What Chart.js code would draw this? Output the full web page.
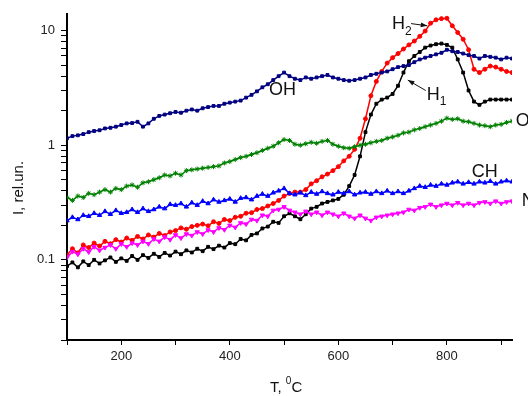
<!DOCTYPE html>
<html>
<head>
<meta charset="utf-8">
<script src="https://cdn.jsdelivr.net/npm/chart.js@4.4.1/dist/chart.umd.min.js"></script>
<style>
  html, body { margin: 0; padding: 0; background: #fff; }
  canvas { display: block; }
</style>
</head>
<body>
<canvas id="chart" width="528" height="396"></canvas>
<script>
// Temperaturas (°C)
const temps = [
  100, 110, 120, 130, 140, 150, 160, 170, 180, 190,
  200, 210, 220, 230, 240, 250, 260, 270, 280, 290,
  300, 310, 320, 330, 340, 350, 360, 370, 380, 390,
  400, 410, 420, 430, 440, 450, 460, 470, 480, 490,
  500, 510, 520, 530, 540, 550, 560, 570, 580, 590,
  600, 610, 620, 630, 640, 650, 660, 670, 680, 690,
  700, 710, 720, 730, 740, 750, 760, 770, 780, 790,
  800, 810, 820, 830, 840, 850, 860, 870, 880, 890,
  900, 910, 920
];

// Intensidades (rel. un.)
const ohValues = [
  1.15, 1.2, 1.22, 1.25, 1.3, 1.33, 1.35, 1.4, 1.42, 1.45,
  1.5, 1.55, 1.56, 1.6, 1.45, 1.55, 1.7, 1.8, 1.85, 1.9,
  1.95, 1.92, 2.0, 2.05, 2.0, 2.1, 2.15, 2.2, 2.2, 2.3,
  2.35, 2.4, 2.45, 2.6, 2.75, 2.95, 3.2, 3.4, 3.7, 4.0,
  4.3, 4.0, 3.8, 3.7, 3.9, 3.8, 3.9, 4.0, 4.1, 3.9,
  3.8, 3.7, 3.65, 3.7, 3.8, 3.9, 4.1, 4.2, 4.3, 4.4,
  4.6, 4.8, 4.9, 5.0, 5.3, 5.6, 5.8, 6.0, 6.2, 6.4,
  6.8, 6.6, 6.5, 6.3, 6.1, 6.0, 5.7, 6.0, 5.9, 5.8,
  5.6, 5.8, 5.7
];
const oValues = [
  0.35, 0.33, 0.36, 0.35, 0.38, 0.37, 0.39, 0.41, 0.39, 0.42,
  0.41, 0.44, 0.45, 0.43, 0.47, 0.48, 0.50, 0.52, 0.55, 0.54,
  0.57, 0.55, 0.60, 0.61, 0.62, 0.63, 0.64, 0.65, 0.66, 0.70,
  0.72, 0.75, 0.78, 0.80, 0.83, 0.86, 0.90, 0.94, 0.98, 1.05,
  1.12, 1.10, 1.02, 1.0, 1.03, 1.06, 1.04, 1.08, 1.10, 1.02,
  0.98, 0.95, 0.94, 0.97, 1.0, 1.02, 1.05, 1.08, 1.1, 1.15,
  1.18, 1.22, 1.28, 1.30, 1.36, 1.40, 1.45, 1.50, 1.55, 1.62,
  1.72, 1.68, 1.70, 1.62, 1.60, 1.55, 1.50, 1.48, 1.45, 1.50,
  1.52, 1.58, 1.62
];
const chValues = [
  0.22, 0.235, 0.225, 0.245, 0.24, 0.255, 0.245, 0.265, 0.25, 0.27,
  0.255, 0.26, 0.275, 0.26, 0.28, 0.265, 0.275, 0.29, 0.28, 0.305,
  0.30, 0.31, 0.29, 0.315, 0.30, 0.325, 0.31, 0.335, 0.32, 0.33,
  0.34, 0.32, 0.345, 0.35, 0.335, 0.36, 0.375, 0.36, 0.385, 0.40,
  0.42, 0.38, 0.37, 0.385, 0.365, 0.39, 0.375, 0.395, 0.38, 0.37,
  0.39, 0.38, 0.395, 0.37, 0.385, 0.39, 0.375, 0.395, 0.38, 0.40,
  0.38, 0.395, 0.38, 0.40, 0.42, 0.44, 0.43, 0.45, 0.44, 0.46,
  0.45, 0.47, 0.48, 0.46, 0.475, 0.46, 0.48, 0.47, 0.485, 0.46,
  0.48, 0.49, 0.48
];
const nValues = [
  0.105, 0.118, 0.112, 0.125, 0.117, 0.13, 0.121, 0.128, 0.135, 0.125,
  0.138, 0.13, 0.14, 0.135, 0.145, 0.138, 0.152, 0.145, 0.158, 0.15,
  0.165, 0.155, 0.168, 0.163, 0.175, 0.168, 0.182, 0.175, 0.19, 0.183,
  0.2, 0.192, 0.21, 0.205, 0.225, 0.22, 0.245, 0.24, 0.27, 0.275,
  0.29, 0.27, 0.26, 0.25, 0.265, 0.25, 0.26, 0.245, 0.26, 0.25,
  0.24, 0.255, 0.24, 0.23, 0.245, 0.23, 0.22, 0.235, 0.24, 0.245,
  0.25, 0.255, 0.26, 0.275, 0.27, 0.285, 0.29, 0.305, 0.29, 0.30,
  0.31, 0.30, 0.315, 0.30, 0.31, 0.30, 0.315, 0.32, 0.31, 0.325,
  0.31, 0.32, 0.325
];
const h2Values = [
  0.11, 0.125, 0.115, 0.135, 0.128, 0.14, 0.132, 0.145, 0.138, 0.15,
  0.143, 0.155, 0.148, 0.16, 0.152, 0.165, 0.158, 0.17, 0.163, 0.175,
  0.18, 0.19, 0.185, 0.195, 0.2, 0.205, 0.198, 0.215, 0.208, 0.225,
  0.22, 0.235, 0.24, 0.255, 0.258, 0.275, 0.28, 0.295, 0.31, 0.33,
  0.36, 0.38, 0.39, 0.39, 0.41, 0.46, 0.49, 0.53, 0.56, 0.6,
  0.65, 0.73, 0.8, 0.92, 1.15, 1.7, 2.7, 3.6, 4.4, 5.2,
  5.8, 6.3, 6.9, 7.5, 8.1, 8.9, 9.9, 11.6, 12.4, 12.7,
  12.8, 11.0, 9.6, 8.4, 6.8, 4.6, 4.3, 4.6, 4.9, 4.8,
  4.6, 4.4, 4.3
];
const h1Values = [
  0.088, 0.095, 0.086, 0.097, 0.09, 0.1, 0.093, 0.099, 0.105, 0.096,
  0.103, 0.098, 0.108, 0.1, 0.11, 0.104, 0.113, 0.106, 0.115, 0.109,
  0.118, 0.112, 0.121, 0.116, 0.125, 0.119, 0.13, 0.124, 0.133, 0.128,
  0.14, 0.137, 0.152, 0.148, 0.165, 0.17, 0.188, 0.195, 0.215, 0.21,
  0.24, 0.255, 0.24, 0.226, 0.25, 0.28, 0.29, 0.31, 0.32, 0.33,
  0.34, 0.37, 0.44, 0.55, 0.8, 1.3, 1.85, 2.3, 2.5, 2.6,
  2.8, 3.3, 4.3, 5.4, 6.0, 6.5, 7.1, 7.4, 7.6, 7.7,
  7.5, 7.1, 5.6, 4.3, 3.0, 2.4, 2.25, 2.4, 2.5, 2.5,
  2.5, 2.5, 2.5
];

// Ticks dos eixos
const xTicks = [100, 200, 300, 400, 500, 600, 700, 800, 900];
const xLabels = [200, 400, 600, 800];
const yTicks = [
  0.02, 0.03, 0.04, 0.05, 0.06, 0.07, 0.08, 0.09,
  0.1, 0.2, 0.3, 0.4, 0.5, 0.6, 0.7, 0.8, 0.9,
  1, 2, 3, 4, 5, 6, 7, 8, 9, 10
];
const yLabels = [0.1, 1, 10];

const font = '"Liberation Sans", Arial, sans-serif';

// Rótulos das curvas (posição em coordenadas de dados)
const curveLabels = [
  { text: 'OH', t: 472, v: 3.04 },
  { text: 'O', t: 927, v: 1.64 },
  { text: 'CH', t: 846, v: 0.585 },
  { text: 'N', t: 938, v: 0.329 },
  { text: 'H', sub: '2', t: 699, v: 11.3, arrow: { from: [734, 11.5], to: [764, 11.0] } },
  { text: 'H', sub: '1', t: 763, v: 2.75, arrow: { from: [761, 3.0], to: [728, 3.7] } }
];

function toPoints(values) {
    return values.map((v, i) => ({ x: temps[i], y: v }));
}

function series(label, values, color, style, radius, rotation) {
    return {
        label: label,
        data: toPoints(values),
        borderColor: color,
        backgroundColor: color,
        borderWidth: 1.5,
        pointStyle: style,
        pointRadius: radius,
        pointRotation: rotation || 0,
        pointBorderWidth: 1,
        tension: 0
    };
}

function drawArrow(ctx, x1, y1, x2, y2) {
    const ang = Math.atan2(y2 - y1, x2 - x1);
    ctx.lineWidth = 1;
    ctx.beginPath();
    ctx.moveTo(x1, y1);
    ctx.lineTo(x2, y2);
    ctx.stroke();
    ctx.beginPath();
    ctx.moveTo(x2, y2);
    ctx.lineTo(x2 - 7 * Math.cos(ang - 0.35), y2 - 7 * Math.sin(ang - 0.35));
    ctx.lineTo(x2 - 7 * Math.cos(ang + 0.35), y2 - 7 * Math.sin(ang + 0.35));
    ctx.closePath();
    ctx.fill();
}

const labelsPlugin = {
    id: 'curveLabels',
    afterDraw(chart) {
        const ctx = chart.ctx;
        const xs = chart.scales.x;
        const ys = chart.scales.y;
        ctx.save();
        ctx.fillStyle = '#111';
        ctx.strokeStyle = '#111';
        ctx.textAlign = 'left';
        ctx.textBaseline = 'middle';

        curveLabels.forEach(l => {
            const px = xs.getPixelForValue(l.t);
            const py = ys.getPixelForValue(l.v);
            ctx.font = '18px ' + font;
            ctx.fillText(l.text, px, py);
            if (l.sub) {
                const w = ctx.measureText(l.text).width;
                ctx.font = '12px ' + font;
                ctx.fillText(l.sub, px + w, py + 7);
            }
            if (l.arrow) {
                drawArrow(ctx,
                    xs.getPixelForValue(l.arrow.from[0]), ys.getPixelForValue(l.arrow.from[1]),
                    xs.getPixelForValue(l.arrow.to[0]), ys.getPixelForValue(l.arrow.to[1]));
            }
        });

        // Título do eixo x: T, °C (com 0 sobrescrito)
        ctx.textBaseline = 'alphabetic';
        let x = 270;
        ctx.font = '15px ' + font;
        ctx.fillText('T, ', x, 392);
        x += ctx.measureText('T, ').width;
        ctx.font = '10px ' + font;
        ctx.fillText('0', x, 384);
        x += ctx.measureText('0').width;
        ctx.font = '15px ' + font;
        ctx.fillText('C', x, 392);

        // Título do eixo y
        ctx.translate(19, 188);
        ctx.rotate(-Math.PI / 2);
        ctx.textAlign = 'center';
        ctx.textBaseline = 'middle';
        ctx.fillText('I, rel.un.', 0, 0);
        ctx.restore();
    }
};

const ctx = document.getElementById('chart');
new Chart(ctx, {
    type: 'line',
    data: {
        datasets: [
            series('OH', ohValues, '#000080', 'rect', 2),
            series('O', oValues, '#008000', 'star', 2.5),
            series('CH', chValues, '#0000ff', 'triangle', 2.5),
            series('N', nValues, '#ff00ff', 'triangle', 2.5, 180),
            series('H2', h2Values, '#ff0000', 'circle', 2),
            series('H1', h1Values, '#000000', 'rect', 2)
        ]
    },
    options: {
        responsive: false,
        animation: false,
        layout: { padding: { top: 10, right: 16, left: 0, bottom: 0 } },
        plugins: {
            legend: { display: false },
            tooltip: { enabled: false }
        },
        scales: {
            x: {
                type: 'linear',
                min: 100,
                max: 920,
                afterBuildTicks: scale => { scale.ticks = xTicks.map(v => ({ value: v })); },
                afterFit: scale => { scale.height = 56; },
                border: { color: '#000', width: 2 },
                grid: { drawOnChartArea: false, drawTicks: true, tickLength: 5, color: '#000' },
                ticks: {
                    padding: 4,
                    color: '#222',
                    font: { family: font, size: 13 },
                    maxRotation: 0,
                    callback: v => xLabels.includes(v) ? String(v) : ''
                }
            },
            y: {
                type: 'logarithmic',
                min: 0.02,
                max: 14,
                afterBuildTicks: scale => { scale.ticks = yTicks.map(v => ({ value: v })); },
                afterFit: scale => { scale.width = 67; },
                border: { color: '#000', width: 2 },
                grid: { drawOnChartArea: false, drawTicks: true, tickLength: 6, color: '#000' },
                ticks: {
                    padding: 6,
                    color: '#222',
                    font: { family: font, size: 13 },
                    autoSkip: false,
                    callback: v => yLabels.includes(v) ? String(v) : ''
                }
            }
        }
    },
    plugins: [labelsPlugin]
});
</script>
</body>
</html>
